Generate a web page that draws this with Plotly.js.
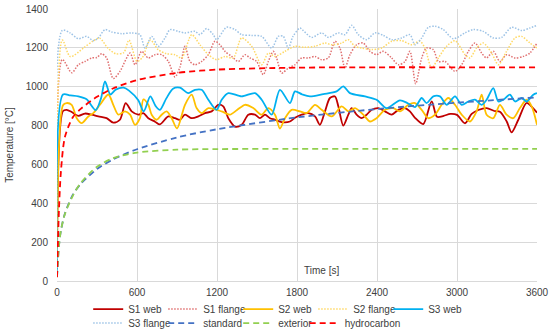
<!DOCTYPE html>
<html>
<head>
<meta charset="utf-8">
<script src="https://cdn.plot.ly/plotly-3.0.1.min.js"></script>
<style>html,body{margin:0;padding:0;background:#fff}#chart{width:550px;height:334px}</style>
</head>
<body>
<div id="chart"></div>
<script>
// ---- data ----
const xTicks = [0, 600, 1200, 1800, 2400, 3000, 3600];
const yTicks = [0, 200, 400, 600, 800, 1000, 1200, 1400];

const tS1web = [0,45,72,110,160,210,260,310,372,422,472,515,560,610,648,685,735,772,835,885,922,960,1010,1060,1110,1160,1210,1247,1285,1335,1385,1435,1485,1522,1560,1597,1635,1685,1747,1785,1835,1885,1935,1972,2010,2047,2085,2110,2147,2185,2210,2247,2285,2322,2360,2410,2460,2510,2560,2610,2647,2685,2747,2810,2850,2900,2950,3000,3060,3110,3160,3222,3280,3322,3372,3410,3460,3522,3570,3600];
const S1web = [20,875,881,870,850,862,856,847,838,815,830,915,873,856,864,838,820,806,847,838,830,856,838,847,864,873,907,899,838,795,804,856,856,838,856,838,830,818,821,840,856,864,847,804,873,942,950,899,800,856,890,856,838,856,881,890,873,856,881,890,873,840,808,925,845,850,860,855,812,860,880,890,875,871,822,765,830,917,890,866];

const tS1flange = [0,40,110,160,210,260,298,335,372,422,472,548,585,635,685,735,785,835,885,922,960,997,1035,1085,1135,1185,1222,1260,1310,1360,1410,1447,1497,1547,1585,1622,1647,1685,1735,1785,1835,1885,1935,1985,2035,2085,2122,2160,2197,2247,2297,2347,2397,2447,2510,2560,2610,2647,2690,2735,2772,2822,2860,2910,2985,3035,3085,3135,3185,3222,3272,3322,3372,3435,3497,3547,3600];
const S1flange = [20,1140,1072,1113,1130,1148,1150,1170,1148,1042,1079,1173,1113,1182,1148,1165,1165,1130,1050,1100,1208,1130,1113,1130,1165,1234,1216,1182,1156,1130,1165,1148,1130,1062,1130,1182,1148,1070,1096,1113,1148,1148,1156,1139,1148,1234,1199,1096,1165,1216,1225,1182,1165,1182,1148,1113,1130,1182,1015,1148,1199,1191,1130,1130,1079,1113,1182,1225,1173,1148,1182,1130,1165,1148,1156,1173,1225];

const tS2web = [0,45,72,110,148,185,235,272,322,385,422,460,510,548,585,622,648,685,710,748,785,822,860,900,960,1010,1047,1085,1135,1235,1297,1350,1410,1472,1535,1585,1635,1672,1710,1760,1822,1872,1935,1985,2060,2135,2185,2235,2297,2347,2397,2460,2522,2572,2635,2685,2735,2785,2835,2885,2935,2985,3035,3097,3147,3185,3222,3272,3322,3372,3422,3472,3522,3560,3600];
const S2web = [20,905,916,907,838,813,847,864,907,960,907,856,873,856,804,838,935,907,856,830,856,873,838,785,907,959,890,864,890,873,856,880,907,890,856,890,856,785,838,881,873,864,907,881,847,899,873,890,856,821,838,881,890,873,907,916,881,838,856,907,942,907,856,821,873,959,856,838,907,856,838,890,933,899,804];

const tS2flange = [0,40,100,200,270,320,380,440,500,540,600,640,700,760,820,885,935,1010,1072,1135,1197,1260,1322,1385,1460,1535,1585,1635,1710,1785,1860,1935,2010,2060,2135,2185,2235,2285,2360,2435,2510,2585,2660,2722,2760,2810,2860,2922,2985,3060,3097,3147,3197,3260,3310,3372,3435,3485,3547,3600];
const S2flange = [20,1240,1155,1200,1235,1250,1200,1170,1175,1240,1130,1150,1240,1190,1170,1165,1148,1268,1216,1165,1139,1156,1148,1251,1208,1113,1173,1156,1182,1208,1203,1208,1225,1216,1225,1242,1208,1199,1191,1199,1234,1237,1216,1234,1199,1096,1148,1208,1237,1165,1148,1199,1225,1173,1113,1182,1251,1259,1225,1199];

const tS3web = [0,45,100,160,222,290,330,360,400,440,500,540,610,650,700,740,772,820,870,922,985,1035,1085,1135,1197,1235,1285,1385,1485,1535,1610,1672,1747,1785,1840,1897,1997,2097,2147,2197,2310,2397,2472,2572,2630,2685,2735,2772,2822,2872,2922,2985,3035,3085,3135,3185,3222,3272,3310,3347,3397,3435,3485,3522,3572,3600];
const S3web = [20,960,955,950,935,880,940,1027,960,985,995,980,930,873,950,900,881,940,990,995,967,984,984,933,881,933,967,950,967,933,856,984,916,976,960,950,962,976,1002,967,950,933,890,930,915,895,942,916,950,950,907,950,907,924,933,907,933,993,924,933,959,924,942,924,959,967];

const tS3flange = [0,40,98,160,222,272,310,360,410,485,560,622,660,710,760,810,848,910,960,1035,1072,1122,1172,1197,1272,1335,1385,1460,1535,1610,1660,1697,1735,1770,1822,1847,1910,1985,2035,2110,2160,2210,2260,2322,2385,2447,2510,2585,2647,2685,2735,2785,2835,2897,2972,3060,3122,3197,3272,3335,3410,3485,3547,3600];
const S3flange = [20,1290,1277,1247,1259,1237,1251,1294,1282,1273,1277,1268,1199,1259,1208,1251,1294,1285,1277,1285,1268,1299,1268,1242,1306,1294,1268,1264,1259,1199,1259,1259,1199,1259,1302,1289,1254,1277,1254,1277,1268,1316,1268,1242,1277,1264,1242,1251,1268,1216,1251,1306,1311,1294,1247,1277,1294,1285,1251,1254,1306,1289,1302,1316];

const tCurve = [0,15,30,60,120,180,300,420,600,900,1200,1800,2400,3000,3600];
const standard    = [20,185,261,349,445,502,576,626,678,739,781,842,885,918,945];
const exterior    = [20,182,263,346,441,506,588,632,661,676,679,680,680,680,680];
const hydrocarbon = [20,373,569,743,844,887,948,991,1034,1071,1088,1098,1100,1100,1100];

// ---- traces ----
function tr(name, x, y, color, width, dash, leg) {
  return {type:'scatter', mode:'lines', name:name, x:x, y:y, legend:leg,
    line:{color:color, width:width, dash:dash, shape:'spline', smoothing:0.8}};
}
const traces = [
  tr('S1 web', tS1web, S1web, '#C00000', 1.8, 'solid', 'legend'),
  tr('S1 flange', tS1flange, S1flange, '#E07070', 1.5, '1.5px,1.5px', 'legend'),
  tr('S2 web', tS2web, S2web, '#FFC000', 1.8, 'solid', 'legend'),
  tr('S2 flange', tS2flange, S2flange, '#FFD966', 1.5, '1.5px,1.5px', 'legend'),
  tr('S3 web', tS3web, S3web, '#00B0F0', 1.8, 'solid', 'legend'),
  tr('S3 flange', tS3flange, S3flange, '#9DC3E6', 1.5, '1.5px,1.5px', 'legend2'),
  tr('standard', tCurve, standard, '#4472C4', 1.8, '6px,4px', 'legend2'),
  tr('exterior', tCurve, exterior, '#92D050', 1.8, '6px,4px', 'legend2'),
  tr('hydrocarbon', tCurve, hydrocarbon, '#FF0000', 1.8, '6px,4px', 'legend3')
];

const font = 'Arial, "Liberation Sans", sans-serif';
const legendBase = {orientation:'h', x:0.065, xanchor:'left', yanchor:'top',
    font:{size:10, color:'#404040'}, entrywidth:30, entrywidthmode:'pixels',
    itemwidth:30, tracegroupgap:0, bgcolor:'rgba(0,0,0,0)'};
const layout = {
  width:550, height:334,
  margin:{l:57, r:13, t:9, b:53, autoexpand:false},
  paper_bgcolor:'#ffffff', plot_bgcolor:'#ffffff',
  font:{family:font, size:10, color:'#404040'},
  showlegend:true,
  xaxis:{range:[0,3600], tickvals:xTicks, ticktext:xTicks.map(String),
    showgrid:true, gridcolor:'#D9D9D9', gridwidth:1, zeroline:false,
    showline:true, linecolor:'#D9D9D9', ticks:'', ticklabelstandoff:2,
    tickfont:{size:10, color:'#404040'}},
  yaxis:{range:[0,1400], tickvals:yTicks, ticktext:yTicks.map(String),
    showgrid:true, gridcolor:'#D9D9D9', gridwidth:1, zeroline:false,
    showline:false, ticks:'', ticklabelstandoff:8, tickfont:{size:10, color:'#404040'},
    title:{text:'Temperature [°C]', font:{size:10, color:'#404040'}, standoff:10}},
  legend:Object.assign({}, legendBase, {y:-0.05}),
  legend2:Object.assign({}, legendBase, {y:-0.1015}),
  legend3:{orientation:'h', x:0.516, xanchor:'left', yanchor:'top', y:-0.1015,
    font:{size:10, color:'#404040'}, itemwidth:30, bgcolor:'rgba(0,0,0,0)'},
  annotations:[{text:'Time [s]', xref:'paper', yref:'paper', x:0.552, y:0.04,
    xanchor:'center', yanchor:'middle', showarrow:false, font:{size:10, color:'#404040'}}]
};
Plotly.newPlot('chart', traces, layout, {displayModeBar:false, staticPlot:true});
</script>
</body>
</html>
